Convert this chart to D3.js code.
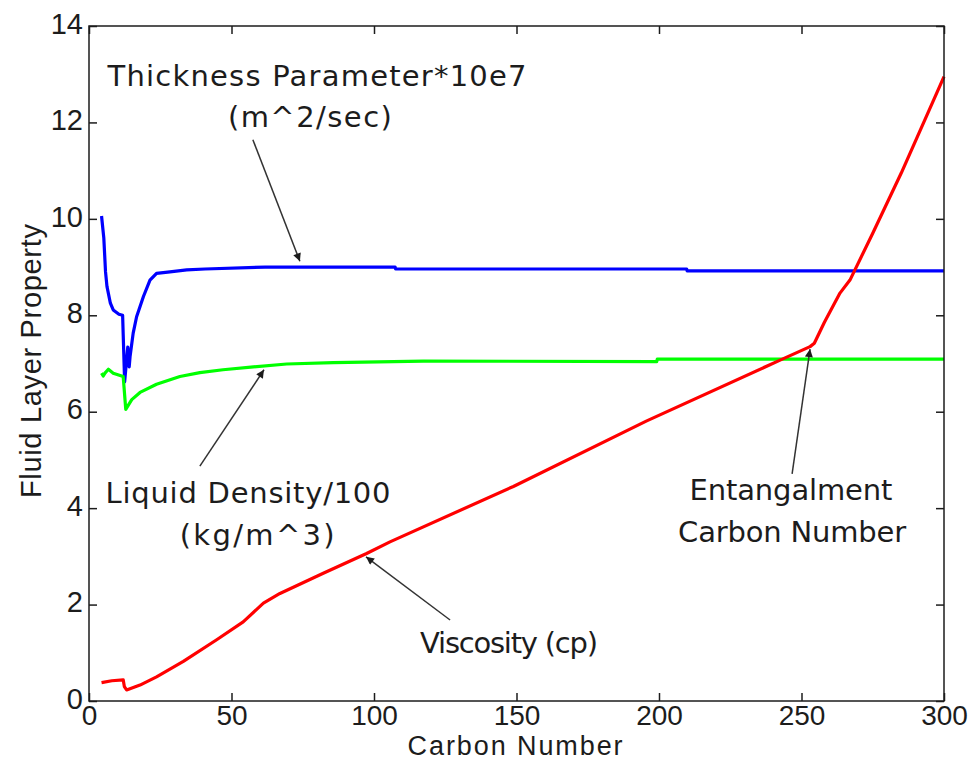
<!DOCTYPE html>
<html>
<head>
<meta charset="utf-8">
<script src="https://cdn.jsdelivr.net/npm/d3@7"></script>
<style>
  body { margin: 0; background: #fff; }
  text { fill: #1c1c1c; }
</style>
</head>
<body>
<div id="chart"></div>
<script>
// carbon number (x) and property values (y)
var thicknessX = [4.4, 5.2, 5.8, 6.3, 7.5, 8.5, 10.5, 11.8, 12.0, 12.5, 13.6, 14.1, 14.4, 15.5, 16.7, 19.1, 21.4, 23.7, 28.4, 34.3, 40.7, 61.8, 107.4, 107.6, 209.7, 209.9, 300];
var thicknessY = [10.06, 9.6, 8.9, 8.6, 8.25, 8.11, 8.02, 8.0, 7.6, 6.62, 7.34, 6.93, 7.14, 7.63, 7.97, 8.39, 8.73, 8.87, 8.90, 8.94, 8.96, 9.0, 9.0, 8.96, 8.96, 8.92, 8.92];

var densityX = [4.4, 5.0, 5.6, 6.8, 8.5, 12.0, 12.9, 15.0, 17.9, 23.7, 31.9, 38.9, 47, 57.7, 69.4, 85.7, 117.3, 199.2, 199.4, 300];
var densityY = [6.80, 6.74, 6.80, 6.88, 6.80, 6.73, 6.05, 6.25, 6.40, 6.57, 6.73, 6.81, 6.87, 6.93, 6.99, 7.02, 7.05, 7.04, 7.09, 7.09];

var viscosityX = [4.4, 8, 12.0, 12.4, 13.2, 17.9, 23.7, 33.1, 44.8, 54.1, 61.2, 67.0, 82.2, 97.4, 105.6, 148.9, 195.7, 242.5, 253, 254.5, 258, 263.5, 267, 275, 285, 300];
var viscosityY = [0.38, 0.42, 0.44, 0.3, 0.23, 0.33, 0.50, 0.82, 1.27, 1.64, 2.03, 2.23, 2.65, 3.06, 3.30, 4.45, 5.81, 7.07, 7.35, 7.42, 7.85, 8.46, 8.73, 9.7, 10.95, 12.95];

var xTicks = [0, 50, 100, 150, 200, 250, 300];
var yTicks = [0, 2, 4, 6, 8, 10, 12, 14];

// callout texts
var labelText = ["Thickness Parameter*10e7", "(m^2/sec)", "Liquid Density/100", "(kg/m^3)", "Viscosity (cp)", "Entangalment", "Carbon Number"];

// callout layout: anchor in data units, width in pixels
var notes = {
    x: [80.0, 77.5, 55.8, 59.0, 147.4, 246.3, 246.7],
    y: [12.76, 11.9, 4.1, 3.23, 1.0, 4.17, 3.3],
    w: [419, 164, 285, 155, 178, 203, 228]
};

// arrows: from (x0,y0) to tip (x1,y1), data units
var arrows = {
    x0: [57.5, 38.9, 126.7, 246.7],
    y0: [11.64, 4.87, 1.68, 4.71],
    x1: [74.0, 61.4, 97.2, 253.0],
    y1: [9.12, 6.87, 2.99, 7.30]
};

function Chart(opts) {
    var self = this;
    if (!(this instanceof Chart)) return new Chart(opts);

    self.width = opts.width;
    self.height = opts.height;
    self.margin = opts.margin;
    self.innerW = self.width - self.margin.left - self.margin.right;
    self.innerH = self.height - self.margin.top - self.margin.bottom;

    self.x = d3.scaleLinear().domain([0, 300]).range([0, self.innerW]);
    self.y = d3.scaleLinear().domain([0, 14]).range([self.innerH, 0]);

    self.svg = d3.select("#chart").append("svg")
      .attr("width", self.width)
      .attr("height", self.height);

    self.g = self.svg.append("g")
      .attr("transform", "translate(" + self.margin.left + "," + self.margin.top + ")");
}

/**
 * box, inward ticks on all four sides and labels
 */
Chart.prototype.drawAxes = function() {
    var self = this, g = self.g, tick = 8;
    var font = "'Liberation Sans', Arial, sans-serif";

    var axes = [
        d3.axisBottom(self.x).tickValues(xTicks).tickSize(tick),
        d3.axisTop(self.x).tickValues(xTicks).tickSize(tick).tickFormat(""),
        d3.axisLeft(self.y).tickValues(yTicks).tickSize(tick),
        d3.axisRight(self.y).tickValues(yTicks).tickSize(tick).tickFormat("")
    ];
    var shifts = ["translate(0," + self.innerH + ")", "translate(0,0)",
                  "translate(0,0)", "translate(" + self.innerW + ",0)"];

    axes.forEach(function(ax, i) {
        var a = g.append("g").attr("transform", shifts[i]).call(ax);
        a.select(".domain").remove();
        // flip the tick marks so they point inside the box
        a.selectAll(".tick line")
          .attr("stroke", "#1c1c1c")
          .attr("stroke-width", 1.5)
          .each(function() {
              var l = d3.select(this);
              if (i === 0) l.attr("y2", -tick);
              if (i === 1) l.attr("y2", tick);
              if (i === 2) l.attr("x2", tick);
              if (i === 3) l.attr("x2", -tick);
          });
        a.selectAll(".tick text")
          .style("font-family", font)
          .style("font-size", "29px")
          .attr("fill", "#222");
        if (i === 0) a.selectAll(".tick text").style("font-size", "28px").attr("y", 4).attr("dy", "0.71em");
        if (i === 2) a.selectAll(".tick text").attr("x", -6).attr("dy", "0.25em");
    });

    g.append("rect")
      .attr("width", self.innerW)
      .attr("height", self.innerH)
      .attr("fill", "none")
      .attr("stroke", "#1c1c1c")
      .attr("stroke-width", 1.5);

    self.svg.append("text")
      .attr("x", self.margin.left + self.x(149.5))
      .attr("y", self.height - 6)
      .attr("text-anchor", "middle")
      .style("font-family", font)
      .style("font-size", "27px")
      .attr("textLength", 215)
      .text("Carbon Number");

    self.svg.append("text")
      .attr("transform", "translate(41," + (self.margin.top + self.y(7.05)) + ") rotate(-90)")
      .attr("text-anchor", "middle")
      .style("font-family", font)
      .style("font-size", "29px")
      .attr("textLength", 274)
      .text("Fluid Layer Property");
}

/**
 * one coloured line per property
 */
Chart.prototype.drawLine = function(xs, ys, color) {
    var self = this;
    var line = d3.line()
      .x(function(d) { return self.x(d[0]); })
      .y(function(d) { return self.y(d[1]); });

    self.g.append("path")
      .datum(d3.zip(xs, ys))
      .attr("d", line)
      .attr("fill", "none")
      .attr("stroke", color)
      .attr("stroke-width", 3.2)
      .attr("stroke-linejoin", "round");
}

/**
 * text callouts with arrows pointing at the curves
 */
Chart.prototype.drawNotes = function() {
    var self = this;

    self.svg.append("defs").append("marker")
      .attr("id", "head")
      .attr("viewBox", "0 0 10 10")
      .attr("refX", 10).attr("refY", 5)
      .attr("markerWidth", 15).attr("markerHeight", 8)
      .attr("markerUnits", "userSpaceOnUse")
      .attr("orient", "auto")
      .append("path")
      .attr("d", "M0,0 L10,5 L0,10 z")
      .attr("fill", "#1c1c1c");

    arrows.x0.forEach(function(x0, i) {
        self.g.append("line")
          .attr("x1", self.x(x0)).attr("y1", self.y(arrows.y0[i]))
          .attr("x2", self.x(arrows.x1[i])).attr("y2", self.y(arrows.y1[i]))
          .attr("stroke", "#333")
          .attr("stroke-width", 1.5)
          .attr("marker-end", "url(#head)");
    });

    labelText.forEach(function(t, i) {
        self.g.append("text")
          .attr("x", self.x(notes.x[i]))
          .attr("y", self.y(notes.y[i]))
          .attr("text-anchor", "middle")
          .attr("textLength", notes.w[i])
          .attr("lengthAdjust", "spacing")
          .style("font-family", "'DejaVu Sans', sans-serif")
          .style("font-size", "29px")
          .text(t);
    });
}

var chart = Chart({width: 977, height: 761, margin: {top: 26, right: 33, bottom: 60, left: 89}});
chart.drawLine(thicknessX, thicknessY, "#0000ff");
chart.drawLine(densityX, densityY, "#00ff00");
chart.drawLine(viscosityX, viscosityY, "#ff0000");
chart.drawAxes();
chart.drawNotes();
</script>
</body>
</html>
